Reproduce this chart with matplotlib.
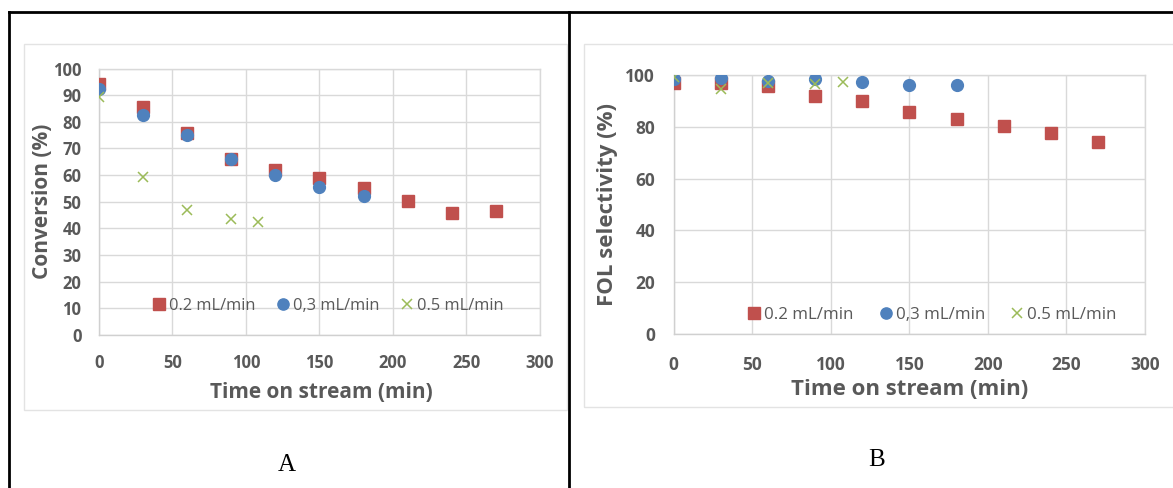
import matplotlib
matplotlib.use("Agg")
import matplotlib.pyplot as plt
from matplotlib.lines import Line2D
from matplotlib.patches import Rectangle

# ---------------- data ----------------
series_labels = ["0.2 mL/min", "0,3 mL/min", "0.5 mL/min"]

time_02 = [0, 30, 60, 90, 120, 150, 180, 210, 240, 270]
time_03 = [0, 30, 60, 90, 120, 150, 180]
time_05 = [0, 30, 60, 90, 108]

conv_02 = [94.2, 85.4, 75.9, 66.0, 61.8, 59.0, 55.0, 50.4, 45.7, 46.7]
conv_03 = [92.2, 82.6, 75.1, 65.9, 60.0, 55.4, 52.1]
conv_05 = [89.4, 59.4, 46.8, 43.5, 42.3]

sel_02 = [97.0, 96.8, 95.8, 91.9, 89.8, 85.7, 83.0, 80.4, 77.5, 74.0]
sel_03 = [98.5, 98.7, 97.6, 98.3, 97.4, 96.0, 96.2]
sel_05 = [99.2, 94.6, 96.8, 96.5, 97.2]

x_ticks = [0, 50, 100, 150, 200, 250, 300]
conv_ticks = list(range(0, 101, 10))
sel_ticks = list(range(0, 101, 20))
panel_labels = ["A", "B"]

# ---------------- style ----------------
RED = "#C0504D"
BLUE = "#4F81BD"
GREEN = "#9BBB59"
TXT = "#595959"
GRID = "#D9D9D9"

W, H = 1173, 488
fig = plt.figure(figsize=(W / 100, H / 100), dpi=100)

def fx(px):
    return px / W

def fy(py):
    return 1 - py / H

def add_ax(left, right, top, bottom):
    return fig.add_axes([fx(left), fy(bottom), fx(right) - fx(left), (bottom - top) / H])

# outer frame (table borders)
for (x0, y0, x1, y1) in [(9, 12.3, W, 12.3), (9, 12.3, 9, H), (569.3, 12.3, 569.3, H)]:
    fig.add_artist(Line2D([fx(x0), fx(x1)], [fy(y0), fy(y1)], color="black", lw=2.0,
                          transform=fig.transFigure))

# chart area borders
fig.add_artist(Rectangle((fx(24), fy(410)), fx(566.5) - fx(24), (410 - 44.3) / H,
                         transform=fig.transFigure, fill=False, ec="#E3E3E3", lw=1.0))
fig.add_artist(Rectangle((fx(583.7), fy(407)), fx(1180) - fx(583.7), (407 - 44.3) / H,
                         transform=fig.transFigure, fill=False, ec="#E3E3E3", lw=1.0))

def style_axes(ax, yticks, ymax, ylabel, ylabel_size, xlabel_size, tick_pad_x, tick_pad_y,
               tick_size):
    ax.set_xlim(0, 300)
    ax.set_ylim(0, ymax)
    ax.set_xticks(x_ticks)
    ax.set_yticks(yticks)
    ax.grid(True, color=GRID, lw=1.0, zorder=0)
    ax.set_axisbelow(True)
    for s in ax.spines.values():
        s.set_color(GRID)
        s.set_linewidth(1.0)
    ax.spines["left"].set_color("#D0D0D0")
    ax.spines["bottom"].set_color("#D0D0D0")
    ax.tick_params(length=0, colors=TXT)
    ax.tick_params(axis="x", pad=tick_pad_x)
    ax.tick_params(axis="y", pad=tick_pad_y)
    for lab in ax.get_xticklabels() + ax.get_yticklabels():
        lab.set_fontfamily("Open Sans")
        lab.set_fontweight("bold")
        lab.set_fontsize(tick_size)
        lab.set_color(TXT)
    ax.set_xlabel("Time on stream (min)", fontfamily="Open Sans", fontweight="bold",
                  fontsize=xlabel_size, color=TXT)
    ax.set_ylabel(ylabel, fontfamily="Open Sans", fontweight="bold",
                  fontsize=ylabel_size, color=TXT)

def plot_series(ax, y02, y03, y05):
    h1, = ax.plot(time_02, y02, ls="none", marker="s", ms=8.5, color=RED, mec=RED,
                  label=series_labels[0], zorder=3)
    h2, = ax.plot(time_03, y03, ls="none", marker="o", ms=8.5, color=BLUE, mec=BLUE,
                  label=series_labels[1], zorder=4)
    h3, = ax.plot(time_05, y05, ls="none", marker="x", ms=7.5, mew=1.1, color=GREEN,
                  label=series_labels[2], zorder=5)
    return [h1, h2, h3]

# ---------------- panel A ----------------
axA = add_ax(98.8, 540, 68.5, 335)
hA = plot_series(axA, conv_02, conv_03, conv_05)
style_axes(axA, conv_ticks, 100, "Conversion (%)", 15, 15, 14, 12.5, 12)
axA.xaxis.set_label_coords(0.505, -0.175)
axA.yaxis.set_label_coords(-0.103, 0.5)
legA = axA.legend(handles=hA, loc="center", bbox_to_anchor=(0.518, 0.108), ncol=3,
                  frameon=False, prop={"family": "Open Sans", "size": 11.8},
                  handletextpad=0.1, columnspacing=1.2, handlelength=1.0,
                  markerscale=0.95)
for t in legA.get_texts():
    t.set_color(TXT)

# ---------------- panel B ----------------
axB = add_ax(673.8, 1145, 75, 334)
hB = plot_series(axB, sel_02, sel_03, sel_05)
style_axes(axB, sel_ticks, 100, "FOL selectivity (%)", 16, 16, 15.5, 13.5, 12.5)
axB.xaxis.set_label_coords(0.5, -0.172)
axB.yaxis.set_label_coords(-0.118, 0.5)
legB = axB.legend(handles=hB, loc="center", bbox_to_anchor=(0.546, 0.073), ncol=3,
                  frameon=False, prop={"family": "Open Sans", "size": 12.2},
                  handletextpad=0.1, columnspacing=1.4, handlelength=1.0,
                  markerscale=0.95)
for t in legB.get_texts():
    t.set_color(TXT)

# panel letters
fig.text(fx(287), fy(465), panel_labels[0], family="Liberation Serif", fontsize=18,
         ha="center", va="center", color="black")
fig.text(fx(877), fy(460), panel_labels[1], family="Liberation Serif", fontsize=18,
         ha="center", va="center", color="black")

fig.savefig("out.png", dpi=100, facecolor="white")
